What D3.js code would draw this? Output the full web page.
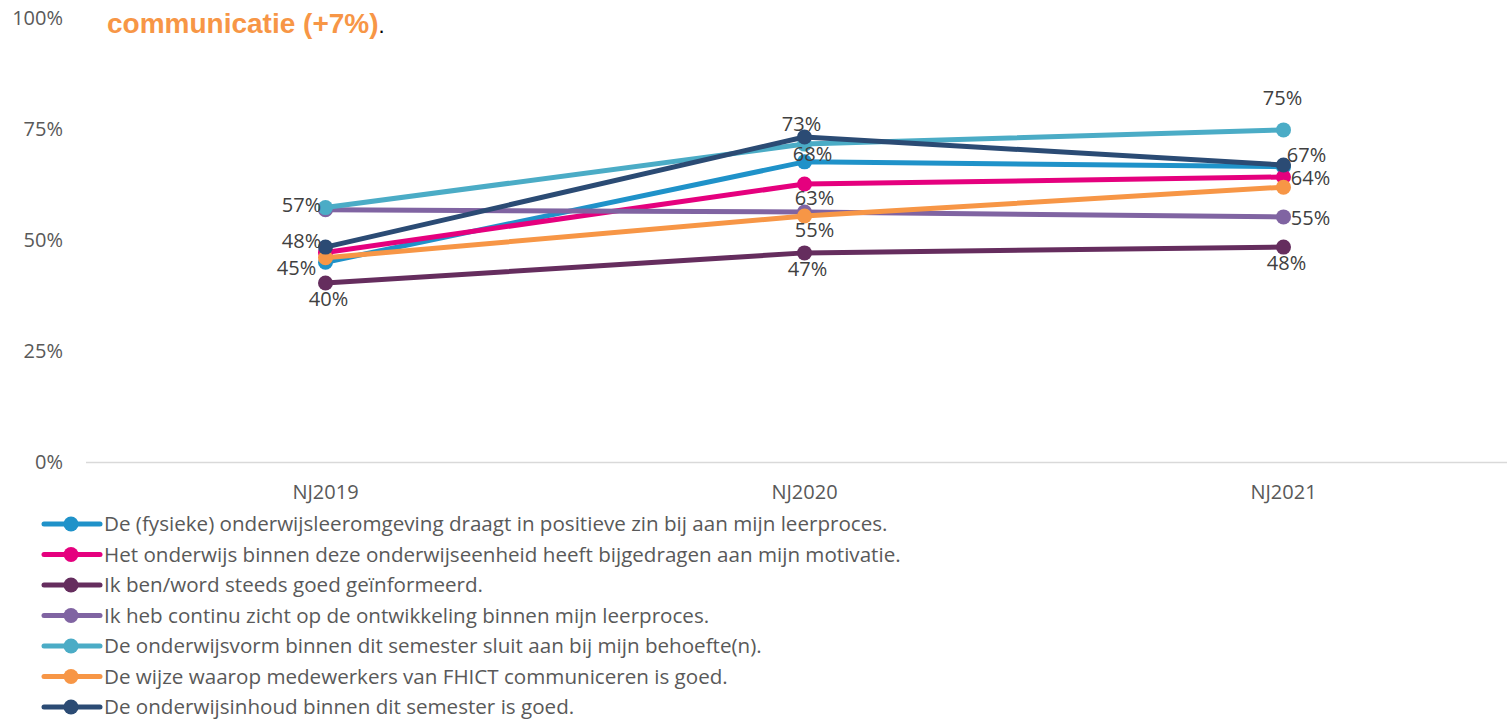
<!DOCTYPE html>
<html>
<head>
<meta charset="utf-8">
<script src="https://cdn.jsdelivr.net/npm/d3@7"></script>
<style>
  body { margin: 0; background: #fff; }
  svg { display: block; font-family: "Open Sans", sans-serif; }
</style>
</head>
<body>
<svg id="chart" width="1507" height="719"></svg>
<script>
const years = ['NJ2019', 'NJ2020', 'NJ2021'];
const yTicks = [0, 25, 50, 75, 100];

const seriesNames = [
    'De (fysieke) onderwijsleeromgeving draagt in positieve zin bij aan mijn leerproces.',
    'Het onderwijs binnen deze onderwijseenheid heeft bijgedragen aan mijn motivatie.',
    'Ik ben/word steeds goed geïnformeerd.',
    'Ik heb continu zicht op de ontwikkeling binnen mijn leerproces.',
    'De onderwijsvorm binnen dit semester sluit aan bij mijn behoefte(n).',
    'De wijze waarop medewerkers van FHICT communiceren is goed.',
    'De onderwijsinhoud binnen dit semester is goed.'
];
const seriesColors = ['#1f92c9', '#e5007e', '#652d5e', '#8064a2', '#4bacc6', '#f79646', '#2b4b74'];

const fysiek = [45.0, 67.6, 66.5];
const motivatie = [47.2, 62.6, 64.2];
const geinformeerd = [40.3, 47.1, 48.4];
const ontwikkeling = [56.8, 56.3, 55.2];
const onderwijsvorm = [57.3, 71.6, 74.8];
const communicatie = [46.0, 55.4, 61.9];
const inhoud = [48.4, 73.2, 66.9];
const seriesValues = [fysiek, motivatie, geinformeerd, ontwikkeling, onderwijsvorm, communicatie, inhoud];

// which data labels are shown, [series, year, placement]
const shownLabels = [
    [4, 0, 'left'], [6, 0, 'lefthigh'], [0, 0, 'leftlow'], [2, 0, 'below'],
    [6, 1, 'above'], [0, 1, 'aboveright'], [1, 1, 'belowright'], [5, 1, 'belowright'], [2, 1, 'below'],
    [4, 2, 'abovefar'], [6, 2, 'rightup'], [1, 2, 'right'], [3, 2, 'right'], [2, 2, 'below']
];

const svg = d3.select('#chart');
const margin = { left: 86, right: 1523, top: 18, bottom: 462 };

const x = d3.scaleBand().domain(years).range([margin.left, margin.right]);
const y = d3.scaleLinear().domain([0, 100]).range([margin.bottom, margin.top]);
const cx = d => x(d) + x.bandwidth() / 2;

// title fragment at top
const title = svg.append('text')
    .attr('x', 107)
    .attr('y', 33)
    .style('font-family', '"Liberation Sans", Arial, sans-serif')
    .style('font-size', '28px')
    .style('font-weight', 'bold')
    .attr('fill', '#f79646')
    .text('communicatie (+7%)');
title.append('tspan')
    .attr('fill', '#000')
    .style('font-weight', 'normal')
    .style('font-size', '22px')
    .text('.');

// y axis labels
svg.append('g')
    .selectAll('text')
    .data(yTicks)
    .join('text')
    .attr('x', 63)
    .attr('y', d => y(d))
    .attr('dy', '0.35em')
    .attr('text-anchor', 'end')
    .attr('fill', '#595959')
    .style('font-size', '20px')
    .text(d => d + '%');

// baseline
svg.append('line')
    .attr('x1', margin.left)
    .attr('x2', 1507)
    .attr('y1', y(0) + 0.5)
    .attr('y2', y(0) + 0.5)
    .attr('stroke', '#d9d9d9')
    .attr('stroke-width', 1.5);

// x axis labels
svg.append('g')
    .selectAll('text')
    .data(years)
    .join('text')
    .attr('x', d => cx(d))
    .attr('y', 492)
    .attr('dy', '0.35em')
    .attr('text-anchor', 'middle')
    .attr('fill', '#595959')
    .style('font-size', '20px')
    .text(d => d);

// lines
const line = d3.line().x((d, i) => cx(years[i])).y(d => y(d));
const series = svg.append('g')
    .selectAll('g')
    .data(seriesValues)
    .join('g');
series.append('path')
    .attr('d', d => line(d))
    .attr('fill', 'none')
    .attr('stroke', (d, i) => seriesColors[i])
    .attr('stroke-width', 5)
    .attr('stroke-linejoin', 'round');
series.selectAll('circle')
    .data((d, i) => d.map(v => ({ v, c: seriesColors[i] })))
    .join('circle')
    .attr('cx', (d, i) => cx(years[i]))
    .attr('cy', d => y(d.v))
    .attr('r', 7.5)
    .attr('fill', d => d.c);

// data labels
const offsets = {
    left: [-24, -3],
    lefthigh: [-24, -6],
    leftlow: [-29, 6],
    right: [27, 1],
    rightup: [23, -10],
    above: [-3, -13],
    abovefar: [-1, -32],
    below: [3, 16],
    belowright: [10, 14],
    aboveright: [8, -8]
};
svg.append('g')
    .selectAll('text')
    .data(shownLabels)
    .join('text')
    .attr('x', d => cx(years[d[1]]) + offsets[d[2]][0])
    .attr('y', d => y(seriesValues[d[0]][d[1]]) + offsets[d[2]][1])
    .attr('dy', '0.35em')
    .attr('text-anchor', 'middle')
    .attr('fill', '#404040')
    .style('font-size', '20px')
    .text(d => Math.round(seriesValues[d[0]][d[1]]) + '%');

// legend
const legend = svg.append('g')
    .selectAll('g')
    .data(seriesNames)
    .join('g')
    .attr('transform', (d, i) => `translate(44, ${524 + i * 30.5})`);
legend.append('line')
    .attr('x1', 0)
    .attr('x2', 56)
    .attr('stroke', (d, i) => seriesColors[i])
    .attr('stroke-width', 5)
    .attr('stroke-linecap', 'round');
legend.append('circle')
    .attr('cx', 27)
    .attr('r', 7.5)
    .attr('fill', (d, i) => seriesColors[i]);
legend.append('text')
    .attr('x', 60)
    .attr('dy', '0.35em')
    .attr('fill', '#595959')
    .style('font-size', '20.6px')
    .text(d => d);
</script>
</body>
</html>
